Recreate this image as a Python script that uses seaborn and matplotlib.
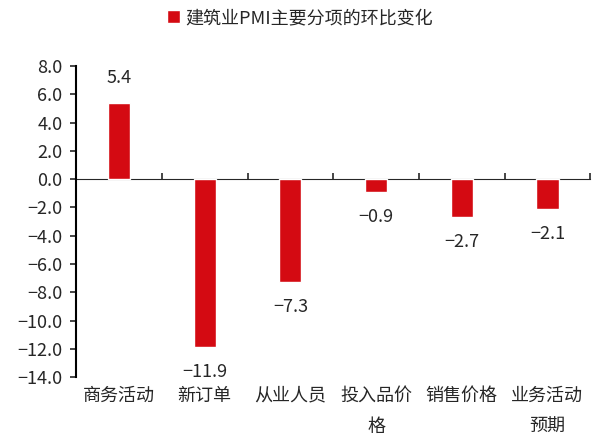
import matplotlib
matplotlib.use("Agg")
import matplotlib.pyplot as plt
import seaborn as sns
import pandas as pd
import numpy as np

categories = ["商务活动", "新订单", "从业人员", "投入品价格", "销售价格", "业务活动预期"]
tick_labels = ["商务活动", "新订单", "从业人员", "投入品价\n格", "销售价格", "业务活动\n预期"]
values = [5.4, -11.9, -7.3, -0.9, -2.7, -2.1]
series_name = "建筑业PMI主要分项的环比变化"
yticks = [-14, -12, -10, -8, -6, -4, -2, 0, 2, 4, 6, 8]

sns.set_style("white")
plt.rcParams['font.family'] = ['Noto Sans CJK SC', 'DejaVu Sans']
plt.rcParams['axes.unicode_minus'] = True

df = pd.DataFrame({"cat": categories, "val": values, "series": series_name})

fig = plt.figure(figsize=(5.95, 4.37), dpi=100)
ax = fig.add_axes([0.128, 0.137, 0.864, 0.712])
red = "#D40A12"
sns.barplot(data=df, x="cat", y="val", hue="series", palette=[red], width=0.26,
            ax=ax, saturation=1, legend=True)

fs = 13
ax.set_ylim(-14, 8)
ax.set_xlim(-0.5, 5.5)
ax.set_yticks(yticks)
ax.set_yticklabels([f"{v:.1f}".replace("-", "\u2212") for v in yticks], fontsize=fs)
ax.set_xticks(range(len(categories)))
ax.set_xticklabels(tick_labels, fontsize=fs, linespacing=1.9, va="top")
ax.tick_params(axis="x", length=0, pad=7)
ax.tick_params(axis="y", direction="out", length=4, width=1.2, left=True, pad=6)
ax.set_xlabel("")
ax.set_ylabel("")
for s in ["top", "right", "bottom"]:
    ax.spines[s].set_visible(False)
ax.spines["left"].set_linewidth(1.5)
ax.spines["left"].set_color("black")

sec = ax.secondary_xaxis(14 / 22)
sec.set_xticks(np.arange(-0.5, 6.0, 1.0))
sec.set_xticklabels([])
sec.tick_params(direction="out", length=4, width=1.2)
sec.spines["bottom"].set_linewidth(1.5)
sec.spines["bottom"].set_color("black")

for i, v in enumerate(values):
    off = 18 if v > 0 else -18
    ax.annotate(f"{v:.1f}".replace("-", "\u2212"), (i, v), xytext=(0, off), textcoords="offset points",
                ha="center", va="center", fontsize=fs)

ax.legend(loc="center", bbox_to_anchor=(0.504, 0.959), bbox_transform=fig.transFigure,
          frameon=False, fontsize=fs, handlelength=0.7, handleheight=0.7, handletextpad=0.3)

fig.savefig("out.png", dpi=100)
